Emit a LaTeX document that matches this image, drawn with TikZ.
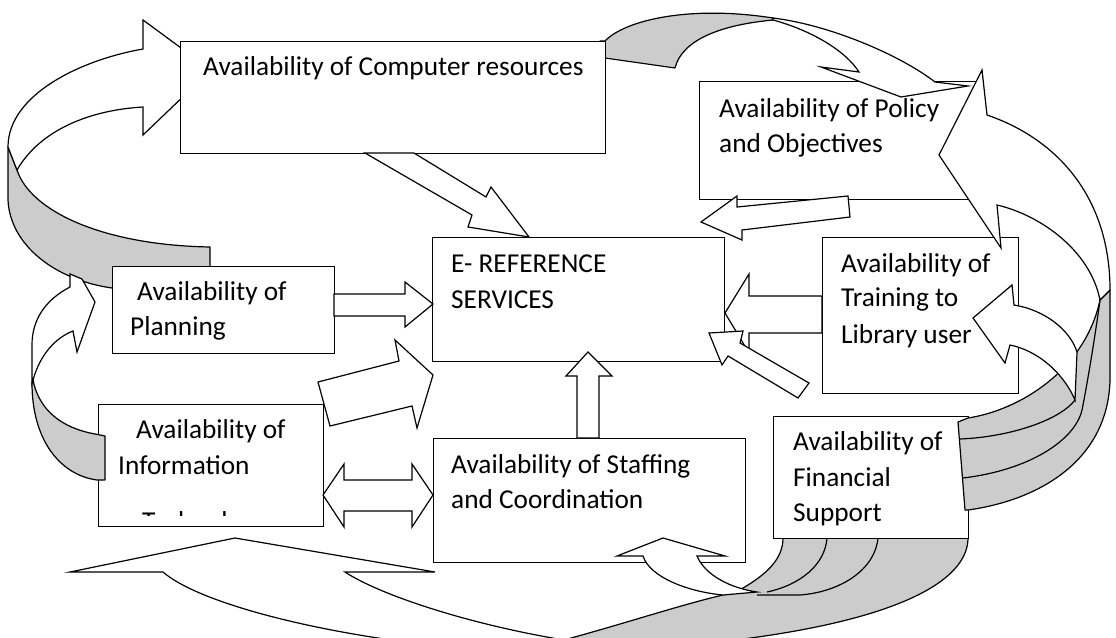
\documentclass[tikz,border=0pt]{standalone}
\usepackage{fontspec}
\setmainfont{Carlito}
\begin{document}
\begin{tikzpicture}[x=1pt,y=-1pt,
  box/.style={draw, fill=white, line width=1.4pt, inner sep=0pt, anchor=north west},
  lbl/.style={anchor=base west, inner sep=0pt, font=\fontsize{27.3}{32}\selectfont},
  blk/.style={draw, fill=white, line width=1.2pt, line join=miter},
  back/.style={draw, fill=black!20, line width=1.2pt, line join=round},
  front/.style={draw, fill=white, line width=1.2pt, line join=miter},
  band/.style={draw, line width=1.2pt}]
\clip (0,0) rectangle (1116,637);

% ---------- back faces of the curved arrows (behind the boxes) ----------
% left loop: Planning -> Computer resources
\path[back] (8,147) -- (8,200) .. controls (10,245) and (55,280) .. (112,288)
  -- (150,300) -- (210,300) -- (210,247) .. controls (100,245) and (30,210) .. (17,170) -- cycle;
% top arc: Computer resources -> Policy
\path[back] (600,41) -- (605,41) .. controls (625,20) and (690,5) .. (773,18)
  -- (773,20) .. controls (720,25) and (682,40) .. (675,68) -- (605,58) -- (600,58) -- cycle;
% bottom sweep below Financial Support
\path[back] (555,645) -- (560,641) .. controls (620,625) and (680,605) .. (723,595)
  -- (743,588) .. controls (765,575) and (783,560) .. (783,538) -- (968,538)
  .. controls (968,580) and (900,625) .. (690,645) -- cycle;
\draw[band] (767,592) .. controls (800,585) and (825,565) .. (827,538);
\draw[band] (757,595) -- (800,595) .. controls (840,592) and (875,570) .. (878,538);

% front face of the left loop (its head runs under the box)
\path[front] (8,147) .. controls (8,95) and (80,60) .. (143,49) -- (143,20) -- (211,70)
  -- (143,135) -- (143,107) .. controls (90,110) and (40,130) .. (17,170) -- cycle;

% ---------- boxes ----------
\node[box, minimum width=425pt, minimum height=112pt] (comp) at (180,41) {};
\node[box, minimum width=276pt, minimum height=118pt] (pol) at (699,81) {};
\node[box, minimum width=292pt, minimum height=124pt] (eref) at (432,237) {};
\node[box, minimum width=222pt, minimum height=87pt] (plan) at (112,266) {};
\node[box, minimum width=196pt, minimum height=156pt] (train) at (822,237) {};
\node[box, minimum width=225pt, minimum height=122pt] (info) at (98,404) {};
\node[box, minimum width=312pt, minimum height=124pt] (staff) at (433,438) {};
\node[box, minimum width=195pt, minimum height=122pt] (fin) at (773,416) {};

% ---------- back faces lying over box edges ----------
% Information -> Planning, tail
\path[back] (32,383) .. controls (32,440) and (60,475) .. (97,480) -- (105,480) -- (105,436)
  -- (90,433) .. controls (55,425) and (38,405) .. (33,380) -- cycle;
% right fan leaving Financial Support
\path[back] (958,422) -- (968,418) .. controls (1020,410) and (1085,370) .. (1100,300)
  -- (1110,290) -- (1110,380) .. controls (1108,460) and (1040,500) .. (968,510)
  -- (965,510) -- cycle;
\draw[band] (960,439) .. controls (1010,437) and (1060,420) .. (1075,400);
\draw[band] (963,478) .. controls (1030,470) and (1075,440) .. (1082,410)
  .. controls (1088,380) and (1096,330) .. (1100,300);

% ---------- front faces of the curved arrows ----------
% Information -> Planning
\path[front] (32,383) -- (32,345) .. controls (32,320) and (45,300) .. (70,287) -- (70,274)
  -- (82,279) -- (95,302) -- (77,352) -- (73,331) .. controls (55,338) and (40,355) .. (33,380) -- cycle;
% big bottom arrow pointing up
\path[front] (70,572) -- (235,538) -- (435,572) -- (345,572)
  .. controls (380,595) and (470,625) .. (570,641) -- (430,645)
  .. controls (300,630) and (195,600) .. (163,572) -- cycle;
% Financial -> Staffing
\path[front] (617,556) -- (663,538) -- (725,556) -- (697,556)
  .. controls (705,575) and (730,588) .. (757,592) -- (723,595)
  .. controls (690,592) and (650,578) .. (643,556) -- cycle;
% Financial -> Training
\path[front] (1014,305) -- (1012,285) -- (973,318) -- (1005,363) -- (1010,345)
  .. controls (1035,350) and (1062,370) .. (1075,400) -- (1077,352)
  .. controls (1070,330) and (1045,310) .. (1014,305) -- cycle;
% top arc head onto Policy
\path[front] (773,18) .. controls (830,25) and (900,55) .. (935,82) -- (968,86) -- (901,97)
  -- (821,67) -- (859,72) .. controls (845,50) and (810,30) .. (773,20) -- cycle;
% Financial -> Policy, up the right side
\path[front] (1100,300) -- (1110,290) .. controls (1110,200) and (1060,140) .. (987,115)
  -- (982,70) -- (939,155) -- (1001,248) -- (997,205)
  .. controls (1040,215) and (1090,250) .. (1100,300) -- cycle;

% ---------- straight block arrows ----------
% Computer resources -> E-Reference
\path[blk] (365,153) -- (472,215) -- (468,227) -- (529,237) -- (491,187) -- (486,197) -- (414,153) -- cycle;
% Planning -> E-Reference
\path[blk] (334,294) -- (405,294) -- (405,282) -- (433,304) -- (405,327) -- (405,316) -- (334,316) -- cycle;
% Information -> E-Reference
\path[blk] (318,382) -- (399,361) -- (395,340) -- (433,375) -- (417,428) -- (412,406) -- (330,426) -- cycle;
% Staffing -> E-Reference
\path[blk] (577,438) -- (577,376) -- (566,376) -- (588,352) -- (612,376) -- (599,376) -- (599,438) -- cycle;
% Training -> E-Reference
\path[blk] (822,296) -- (749,296) -- (749,274) -- (725,313) -- (749,353) -- (749,333) -- (822,333) -- cycle;
% lower right -> E-Reference corner
\path[blk] (709,333) -- (722,365) -- (728,356) -- (798,398) -- (809,383) -- (740,343) -- (743,331) -- cycle;
% towards Policy
\path[blk] (701,222) -- (737,196) -- (737,207) -- (848,196) -- (850,217) -- (742,230) -- (742,240) -- cycle;
% Information <-> Staffing
\path[blk] (323,495) -- (344,464) -- (344,480) -- (412,480) -- (412,464) -- (433,495)
  -- (412,527) -- (412,511) -- (344,511) -- (344,527) -- cycle;

% ---------- texts ----------
\node[lbl] (comp1) at (203,75) {Availability of Computer resources};
\node[lbl] (pol1) at (719,117) {Availability of Policy};
\node[lbl] (pol2) at (719,152) {and Objectives};
\node[lbl] (eref1) at (451,272) {E- REFERENCE};
\node[lbl] (eref2) at (451,308) {SERVICES};
\node[lbl] (plan1) at (137,300) {Availability of};
\node[lbl] (plan2) at (130,335) {Planning};
\node[lbl] (train1) at (841,272) {Availability of};
\node[lbl] (train2) at (841,306) {Training to};
\node[lbl] (train3) at (841,343) {Library user};
\node[lbl] (info1) at (136,438) {Availability of};
\node[lbl] (info2) at (118,474) {Information};
\begin{scope}
  \clip (98,404) rectangle (323,515);
  \node[lbl] (info3) at (142,530) {Technology};
\end{scope}
\node[lbl] (staff1) at (451,473) {Availability of Staffing};
\node[lbl] (staff2) at (451,508) {and Coordination};
\node[lbl] (fin1) at (793,450) {Availability of};
\node[lbl] (fin2) at (793,486) {Financial};
\node[lbl] (fin3) at (793,521) {Support};
\end{tikzpicture}
\end{document}
